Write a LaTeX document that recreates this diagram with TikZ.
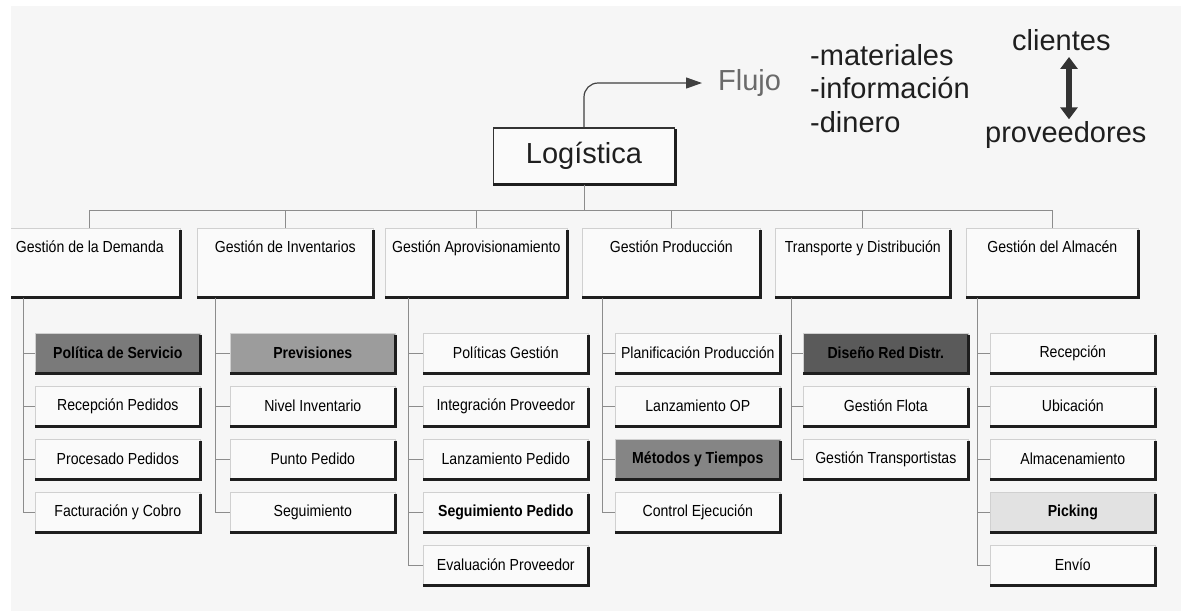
\documentclass[tikz,border=0pt]{standalone}
\usepackage{fontspec}
\setmainfont{Liberation Sans}
\newfontfamily\narrowfam[FakeStretch=0.88]{Liberation Sans}
\usetikzlibrary{arrows.meta}
\definecolor{bgc}{HTML}{F6F6F6}
\definecolor{boxw}{HTML}{FAFAFA}
\definecolor{lineg}{HTML}{D0D0D0}
\definecolor{shc}{HTML}{1E1E1E}
\definecolor{connc}{HTML}{8C8C8C}
\definecolor{flujoc}{HTML}{6A6A6A}
\definecolor{hlA}{HTML}{7A7A7A}
\definecolor{hlB}{HTML}{9C9C9C}
\definecolor{hlC}{HTML}{5A5A5A}
\definecolor{hlD}{HTML}{858585}
\definecolor{hlE}{HTML}{E2E2E2}
\newcommand{\kidfont}{\narrowfam\fontsize{16pt}{18pt}\selectfont}
\newcommand{\bigfont}{\fontsize{29pt}{33pt}\selectfont}
\begin{document}
\begin{tikzpicture}[x=1pt,y=-1pt,
  cat/.style={draw=lineg, line width=0.6pt, fill=boxw, anchor=north west, minimum width=#1, inner xsep=0pt, inner ysep=0pt, text height=24pt, text depth=45pt, font=\kidfont},
  kid/.style={draw=lineg, line width=0.6pt, fill=boxw, anchor=west, minimum width=165pt, minimum height=40pt, inner sep=0pt, font=\kidfont},
  hl/.style={fill=#1, font=\kidfont\bfseries},
  boldkid/.style={font=\kidfont\bfseries},
  sh/.style={line width=3pt, draw=shc, line join=miter},
  conn/.style={draw=connc, line width=1pt},
  big/.style={inner sep=0pt, font=\bigfont, anchor=base west, text=black!88}
]
\useasboundingbox (0,0) rectangle (1181,611);
\fill[white] (0,0) rectangle (1181,611);
\fill[bgc] (11,6) rectangle (1181,611);
\begin{scope}
\clip (11,6) rectangle (1181,611);

% top node and labels
\node[draw=black!80, line width=1.2pt, fill=boxw, minimum width=181pt, minimum height=56pt, inner sep=0pt, font=\bigfont, text=black!88] (log) at (584,156) {Logística};
\draw[sh] ([yshift=-2pt]log.north east) -- (log.south east) -- (log.south west);

\node[big, text=flujoc] (flujo) at (718,90.5) {Flujo};
\draw[line width=1.2pt, draw=black!75, rounded corners=14pt, -{Triangle[length=16pt,width=11pt]}, shorten >=16pt] (log.north) -- (log.north |- flujo.west) -- (flujo.west);

\node[big] (m1) at (810,65.5) {-materiales};
\node[big] (m2) at (810,98.5) {-información};
\node[big] (m3) at (810,132) {-dinero};
\node[big] (cli) at (1012,50.5) {clientes};
\node[big] (prov) at (985,142.5) {proveedores};
\coordinate (dax) at (1069,0);
\draw[line width=6pt, draw=black!80, {Triangle[length=12pt,width=17pt]}-{Triangle[length=12pt,width=17pt]}, shorten <=6pt, shorten >=2pt] (cli.south -| dax) -- (prov.north -| dax);

% level 1
\node[cat=181pt] (c1) at (-1,228) {Gestión de la Demanda};
\node[cat=176pt] (c2) at (197,228) {Gestión de Inventarios};
\node[cat=182pt] (c3) at (385,228) {Gestión Aprovisionamiento};
\node[cat=178pt] (c4) at (582,228) {Gestión Producción};
\node[cat=175pt] (c5) at (775,228) {Transporte y Distribución};
\node[cat=172pt] (c6) at (966,228) {Gestión del Almacén};
\foreach \c in {c1,c2,c3,c4,c5,c6}
  \draw[sh] ([yshift=-2pt]\c.north east) -- (\c.south east) -- (\c.south west);

\coordinate (bus) at (583,210);
\draw[conn] (log.south) -- (log.south |- bus);
\draw[conn] (c1.north |- bus) -- (c6.north |- bus);
\foreach \c in {c1,c2,c3,c4,c5,c6}
  \draw[conn] (\c.north) -- (\c.north |- bus);

% children
\node[kid, hl=hlA] (k11) at (35,353) {Política de Servicio};
\node[kid] (k12) at (35,406) {Recepción Pedidos};
\node[kid] (k13) at (35,459) {Procesado Pedidos};
\node[kid] (k14) at (35,512) {Facturación y Cobro};

\node[kid, hl=hlB] (k21) at (230,353) {Previsiones};
\node[kid] (k22) at (230,406) {Nivel Inventario};
\node[kid] (k23) at (230,459) {Punto Pedido};
\node[kid] (k24) at (230,512) {Seguimiento};

\node[kid] (k31) at (423,353) {Políticas Gestión};
\node[kid] (k32) at (423,406) {Integración Proveedor};
\node[kid] (k33) at (423,459) {Lanzamiento Pedido};
\node[kid, boldkid] (k34) at (423,512) {Seguimiento Pedido};
\node[kid] (k35) at (423,565) {Evaluación Proveedor};

\node[kid] (k41) at (615,353) {Planificación Producción};
\node[kid] (k42) at (615,406) {Lanzamiento OP};
\node[kid, hl=hlD] (k43) at (615,459) {Métodos y Tiempos};
\node[kid] (k44) at (615,512) {Control Ejecución};

\node[kid, hl=hlC] (k51) at (803,353) {Diseño Red Distr.};
\node[kid] (k52) at (803,406) {Gestión Flota};
\node[kid] (k53) at (803,459) {Gestión Transportistas};

\node[kid] (k61) at (990,353) {Recepción};
\node[kid] (k62) at (990,406) {Ubicación};
\node[kid] (k63) at (990,459) {Almacenamiento};
\node[kid, hl=hlE] (k64) at (990,512) {Picking};
\node[kid] (k65) at (990,565) {Envío};

\foreach \k in {k11,k12,k13,k14,k21,k22,k23,k24,k31,k32,k33,k34,k35,k41,k42,k43,k44,k51,k52,k53,k61,k62,k63,k64,k65}
  \draw[sh] ([yshift=-2pt]\k.north east) -- (\k.south east) -- (\k.south west);

% child connectors
\coordinate (v1) at (23,0);
\coordinate (v2) at (215,0);
\coordinate (v3) at (408,0);
\coordinate (v4) at (602,0);
\coordinate (v5) at (791,0);
\coordinate (v6) at (977,0);
\draw[conn] (c1.south -| v1) -- (k14.west -| v1);
\draw[conn] (c2.south -| v2) -- (k24.west -| v2);
\draw[conn] (c3.south -| v3) -- (k35.west -| v3);
\draw[conn] (c4.south -| v4) -- (k44.west -| v4);
\draw[conn] (c5.south -| v5) -- (k53.west -| v5);
\draw[conn] (c6.south -| v6) -- (k65.west -| v6);
\foreach \k in {k11,k12,k13,k14} \draw[conn] (\k.west -| v1) -- (\k.west);
\foreach \k in {k21,k22,k23,k24} \draw[conn] (\k.west -| v2) -- (\k.west);
\foreach \k in {k31,k32,k33,k34,k35} \draw[conn] (\k.west -| v3) -- (\k.west);
\foreach \k in {k41,k42,k43,k44} \draw[conn] (\k.west -| v4) -- (\k.west);
\foreach \k in {k51,k52,k53} \draw[conn] (\k.west -| v5) -- (\k.west);
\foreach \k in {k61,k62,k63,k64,k65} \draw[conn] (\k.west -| v6) -- (\k.west);
\end{scope}
\end{tikzpicture}
\end{document}
